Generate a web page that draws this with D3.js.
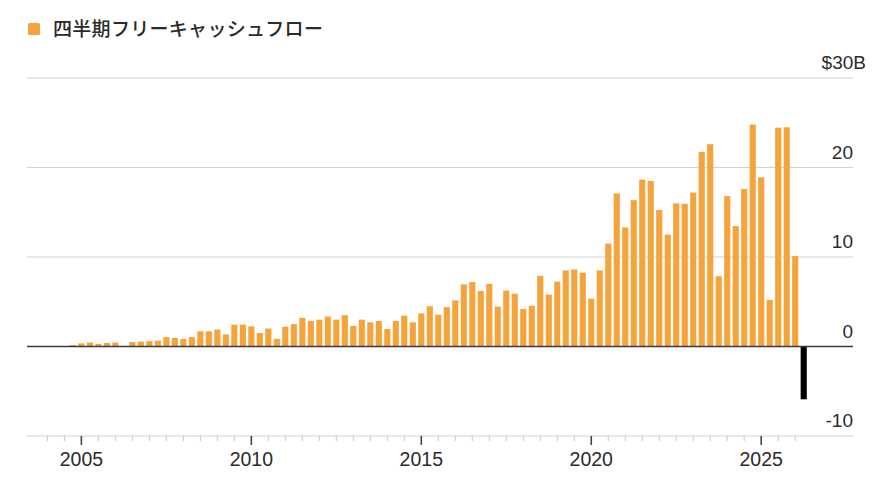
<!DOCTYPE html>
<html>
<head>
<meta charset="utf-8">
<script src="https://cdn.jsdelivr.net/npm/d3@7"></script>
<style>
  body { margin: 0; background: #fff; }
  text { font-family: "Liberation Sans", Arial, sans-serif; fill: #2b2b2b; }
  .legend text { font-family: "Noto Sans CJK JP", sans-serif; }
</style>
</head>
<body>
<div id="chart"></div>
<script>
'use strict';

// quarterly free cash flow, $B, first bar is the quarter ending late 2004
const firstQuarterEnd = 2004.75;
const fcfValues = [
    0.15, 0.35, 0.45, 0.3, 0.4, 0.45, 0.02, 0.5, 0.55, 0.6,
    0.65, 1.05, 0.95, 0.85, 1.05, 1.7, 1.7, 1.9, 1.35, 2.45,
    2.45, 2.25, 1.5, 2.0, 0.85, 2.2, 2.5, 3.2, 2.85, 3.0,
    3.35, 3.0, 3.5, 2.3, 3.0, 2.7, 2.85, 1.95, 2.85, 3.45,
    2.7, 3.7, 4.5, 3.55, 4.4, 5.15, 6.95, 7.2, 6.2, 7.0,
    4.45, 6.25, 5.9, 4.2, 4.55, 7.9, 5.8, 7.25, 8.5, 8.6,
    8.25, 5.35, 8.5, 11.5, 17.1, 13.3, 16.35, 18.65, 18.5, 15.25,
    12.5, 16.0, 15.95, 17.2, 21.75, 22.6, 7.85, 16.8, 13.45, 17.6,
    24.8, 18.9, 5.2, 24.45, 24.5, 10.1, -5.9
];
const yTicks = [-10, 0, 10, 20, 30];
const yearLabels = [2005, 2010, 2015, 2020, 2025];
const legendLabel = "四半期フリーキャッシュフロー";

const width = 890, height = 500;
const orange = "#f5a33b";

const svg = d3.select("#chart")
    .append("svg")
    .attr("width", width)
    .attr("height", height);

// scales
const x = d3.scaleLinear()
    .domain([2003.4, 2027.7])
    .range([27, 853]);
const y = d3.scaleLinear()
    .domain([-10, 30])
    .range([436, 78]);

const data = fcfValues.map((v, i) => ({ date: firstQuarterEnd + i * 0.25, value: v }));
const barW = (x(2000.25) - x(2000)) * 0.72;

// gridlines
svg.append("g")
    .selectAll("line")
    .data(yTicks.filter(d => d !== 0))
    .enter()
    .append("line")
    .attr("x1", x.range()[0])
    .attr("x2", x.range()[1])
    .attr("y1", d => y(d))
    .attr("y2", d => y(d))
    .attr("stroke", "#d2d2d2")
    .attr("stroke-width", 1.2);

// y labels
const yLab = svg.append("g")
    .selectAll("text")
    .data(yTicks)
    .enter()
    .append("text")
    .attr("x", 853)
    .attr("y", d => y(d) - 9)
    .attr("text-anchor", "end")
    .attr("font-size", 19);
yLab.text(d => d === 30 ? "$30" : d);
yLab.filter(d => d === 30)
    .append("tspan")
    .text("B");
yLab.filter(d => d === 30).attr("x", 866);

// bars
svg.append("g")
    .selectAll("rect")
    .data(data)
    .enter()
    .append("rect")
    .attr("x", d => x(d.date) - barW / 2)
    .attr("width", barW)
    .attr("y", d => y(Math.max(0, d.value)))
    .attr("height", d => Math.abs(y(d.value) - y(0)))
    .attr("fill", d => d.value < 0 ? "#000" : orange);

// zero line
svg.append("line")
    .attr("x1", x.range()[0])
    .attr("x2", x.range()[1])
    .attr("y1", y(0))
    .attr("y2", y(0))
    .attr("stroke", "#3a3a3a")
    .attr("stroke-width", 1.6);

// x axis ticks every half year
const halfYears = d3.range(2004, 2026.01, 0.5);
svg.append("g")
    .selectAll("line")
    .data(halfYears)
    .enter()
    .append("line")
    .attr("x1", d => x(d))
    .attr("x2", d => x(d))
    .attr("y1", y(-10))
    .attr("y2", y(-10) + 5)
    .attr("stroke", "#c8c8c8")
    .attr("stroke-width", 1);

svg.append("g")
    .selectAll("line")
    .data(yearLabels)
    .enter()
    .append("line")
    .attr("x1", d => x(d))
    .attr("x2", d => x(d))
    .attr("y1", y(-10))
    .attr("y2", y(-10) + 9)
    .attr("stroke", "#444")
    .attr("stroke-width", 1.6);

svg.append("g")
    .selectAll("text")
    .data(yearLabels)
    .enter()
    .append("text")
    .attr("x", d => x(d))
    .attr("y", 466)
    .attr("text-anchor", "middle")
    .attr("font-size", 19.5)
    .text(d => d);

// legend
const legend = svg.append("g").attr("class", "legend");
legend.append("rect")
    .attr("x", 28)
    .attr("y", 23)
    .attr("width", 12)
    .attr("height", 12)
    .attr("rx", 1.5)
    .attr("fill", orange);
legend.append("text")
    .attr("x", 53)
    .attr("y", 36)
    .attr("font-size", 19)
    .attr("font-weight", 500)
    .attr("letter-spacing", 0.3)
    .text(legendLabel);
</script>
</body>
</html>
